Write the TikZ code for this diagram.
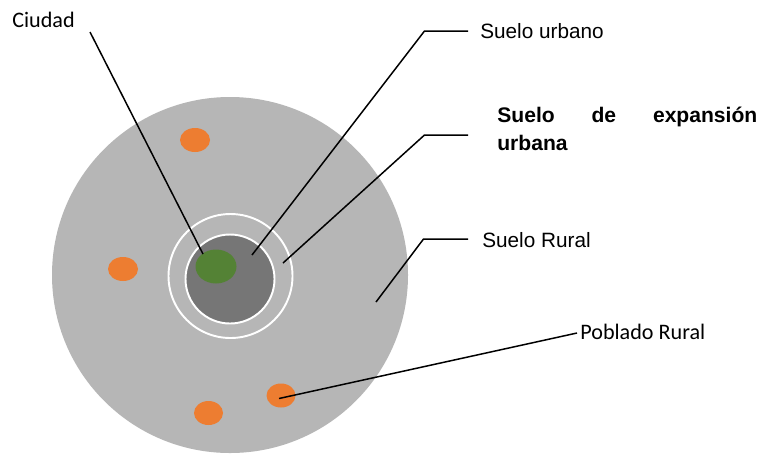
\documentclass[tikz,border=0pt]{standalone}
\usepackage{fontspec}
\newfontfamily\arial{Liberation Sans}
\newfontfamily\calibri{Carlito}
\definecolor{rural}{RGB}{182,182,182}
\definecolor{urbano}{RGB}{118,118,118}
\definecolor{ciudad}{RGB}{84,130,53}
\definecolor{poblado}{RGB}{237,125,49}
\begin{document}
\begin{tikzpicture}[x=0.02cm,y=-0.02cm,
    leader/.style={line width=0.85pt},
    rotulo/.style={anchor=west,inner sep=0pt,font=\arial\fontsize{11.8}{14}\selectfont},
    rotulocal/.style={anchor=west,inner sep=0pt,font=\calibri\fontsize{12.6}{14}\selectfont},
    anillo/.style={draw=white,line width=1.1pt},
    pueblo/.style={fill=poblado}]
\useasboundingbox (0,0) rectangle (759,454);
\clip (0,0) rectangle (759,454);
% zonas
\fill[rural] (230,275) circle (178);
\draw[anillo] (230.5,276) circle (62);
\draw[anillo,fill=urbano] (230,279) circle (44.5);
\fill[ciudad] (216,266.5) ellipse [x radius=20.5, y radius=17];
\fill[pueblo] (195,140) ellipse [x radius=15, y radius=12];
\fill[pueblo] (123,269) ellipse [x radius=15, y radius=12];
\fill[pueblo] (208.5,413) ellipse [x radius=14.5, y radius=12];
\fill[pueblo] (281,395.5) ellipse [x radius=14.5, y radius=12];
% rotulos
\node[rotulocal] (ciudad) at (12,20) {Ciudad};
\node[rotulo] (urbano) at (480,31) {Suelo urbano};
\node[rotulo,anchor=north west,text width=5.2cm,align=left,font=\arial\bfseries\fontsize{12}{16}\selectfont]
    (expansion) at (497,107) {Suelo \hfill de \hfill expansión\\urbana};
\node[rotulo] (rural) at (482,240) {Suelo Rural};
\node[rotulocal] (poblado) at (580,332) {Poblado Rural};
% puntos de las lineas
\coordinate (c0) at (90,32);
\coordinate (c1) at (203,254);
\coordinate (u0) at (468,31);
\coordinate (u1) at (424.5,31);
\coordinate (u2) at (252,255);
\coordinate (e0) at (468,135);
\coordinate (e1) at (424.5,135);
\coordinate (e2) at (283,263);
\coordinate (r0) at (468,239);
\coordinate (r1) at (423.5,239);
\coordinate (r2) at (376,302);
\coordinate (p0) at (577,333);
\coordinate (p1) at (279,398.5);
% lineas
\draw[leader] (c0) -- (c1);
\draw[leader] (u0) -- (u1) -- (u2);
\draw[leader] (e0) -- (e1) -- (e2);
\draw[leader] (r0) -- (r1) -- (r2);
\draw[leader] (p0) -- (p1);
\end{tikzpicture}
\end{document}
